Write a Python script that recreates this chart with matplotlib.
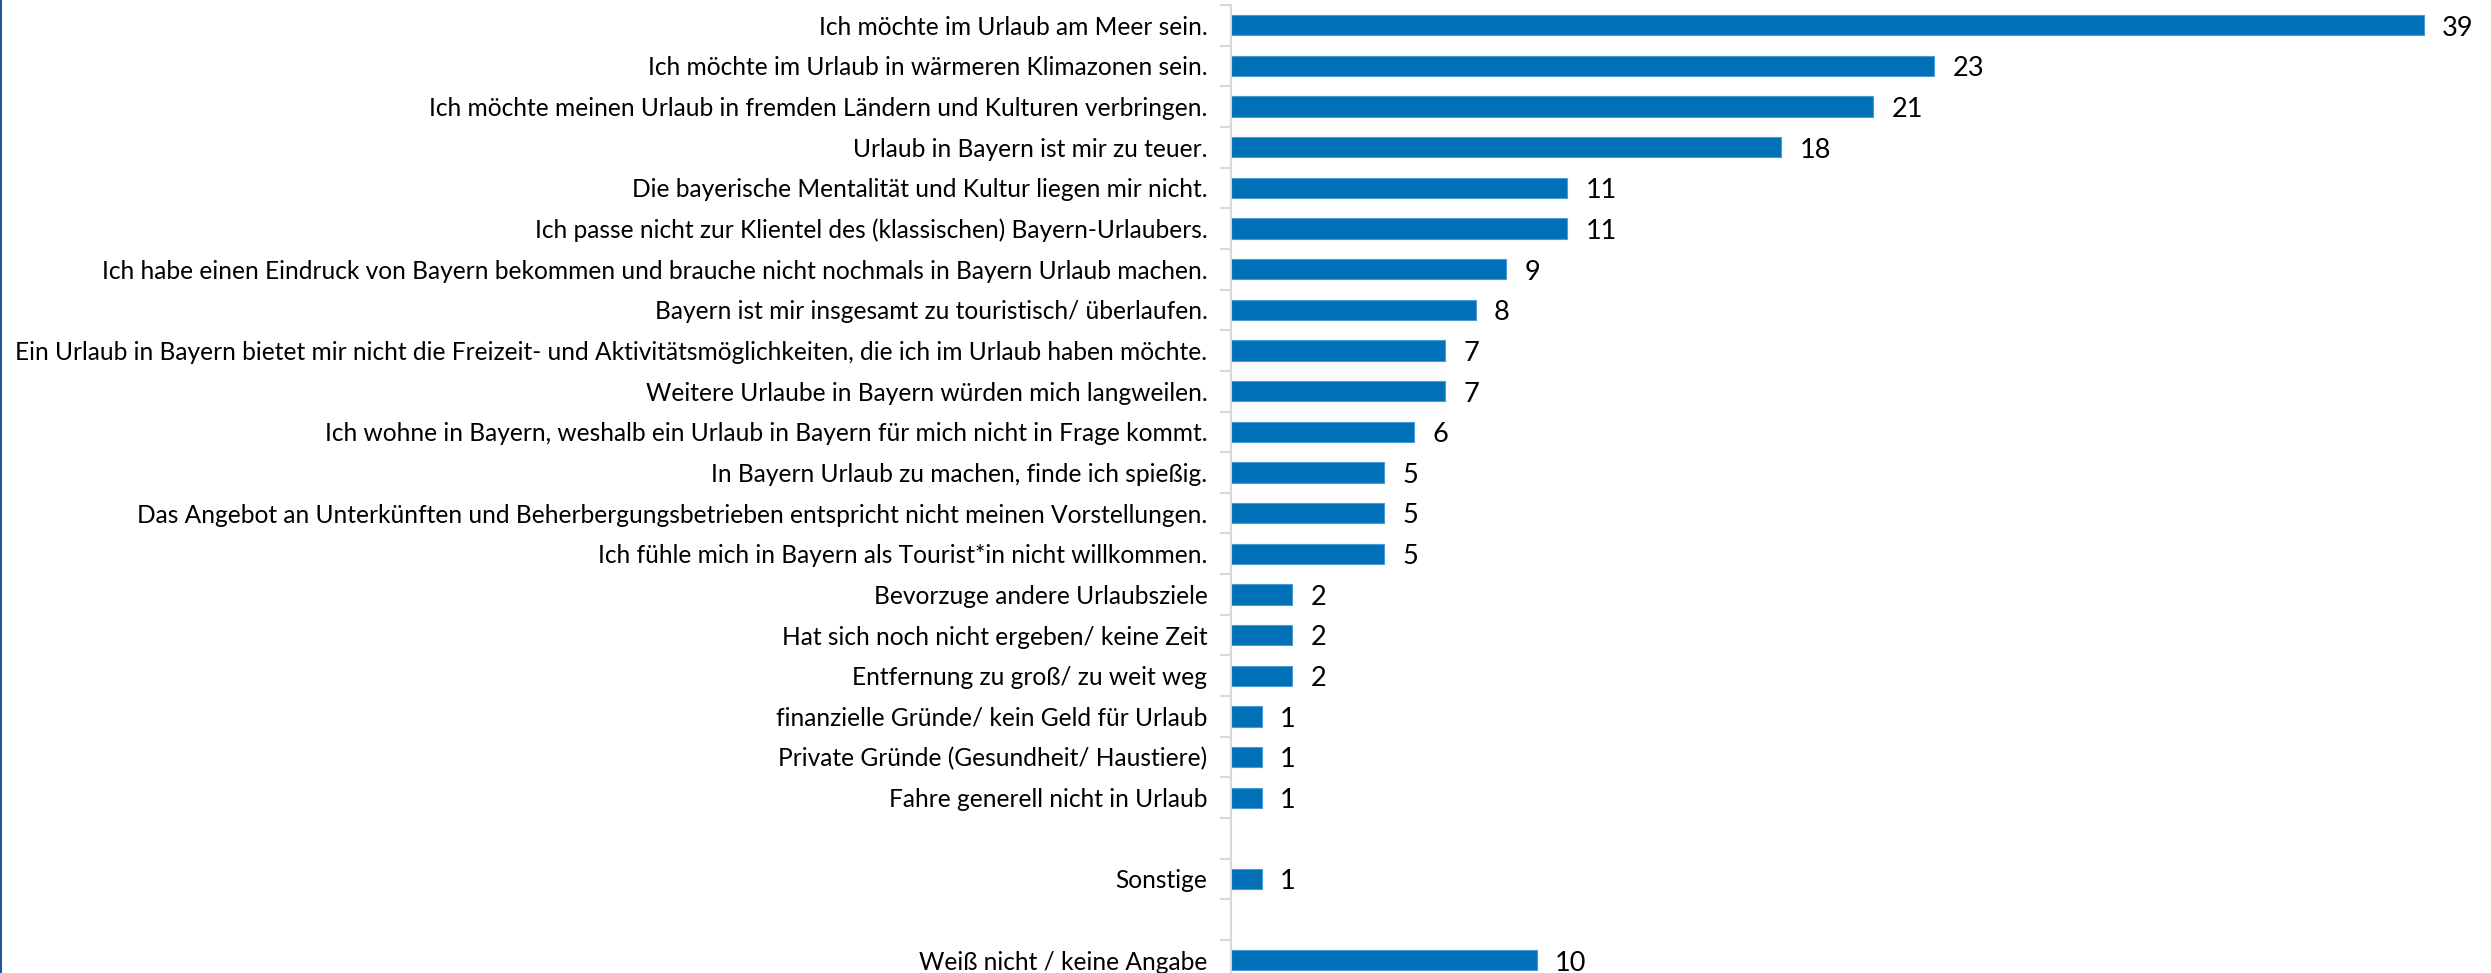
import numpy as np
import matplotlib
matplotlib.use("Agg")
from matplotlib import pyplot as plt
from matplotlib.lines import Line2D

# categories top to bottom; "" marks the empty slots in the axis
labels = [
    "Ich möchte im Urlaub am Meer sein.",
    "Ich möchte im Urlaub in wärmeren Klimazonen sein.",
    "Ich möchte meinen Urlaub in fremden Ländern und Kulturen verbringen.",
    "Urlaub in Bayern ist mir zu teuer.",
    "Die bayerische Mentalität und Kultur liegen mir nicht.",
    "Ich passe nicht zur Klientel des (klassischen) Bayern-Urlaubers.",
    "Ich habe einen Eindruck von Bayern bekommen und brauche nicht nochmals in Bayern Urlaub machen.",
    "Bayern ist mir insgesamt zu touristisch/ überlaufen.",
    "Ein Urlaub in Bayern bietet mir nicht die Freizeit- und Aktivitätsmöglichkeiten, die ich im Urlaub haben möchte.",
    "Weitere Urlaube in Bayern würden mich langweilen.",
    "Ich wohne in Bayern, weshalb ein Urlaub in Bayern für mich nicht in Frage kommt.",
    "In Bayern Urlaub zu machen, finde ich spießig.",
    "Das Angebot an Unterkünften und Beherbergungsbetrieben entspricht nicht meinen Vorstellungen.",
    "Ich fühle mich in Bayern als Tourist*in nicht willkommen.",
    "Bevorzuge andere Urlaubsziele",
    "Hat sich noch nicht ergeben/ keine Zeit",
    "Entfernung zu groß/ zu weit weg",
    "finanzielle Gründe/ kein Geld für Urlaub",
    "Private Gründe (Gesundheit/ Haustiere)",
    "Fahre generell nicht in Urlaub",
    "",
    "Sonstige",
    "",
    "Weiß nicht / keine Angabe",
]
values = [39, 23, 21, 18, 11, 11, 9, 8, 7, 7, 6, 5, 5, 5, 2, 2, 2, 1, 1, 1,
          None, 1, None, 10]

plt.rcParams['font.family'] = ['Lato', 'DejaVu Sans']

fig = plt.figure(figsize=(24.91, 9.73), dpi=100)
# axis spine at x=1231px, slot height ~40.65px, top boundary at ~5px
n = len(labels)
slot = 40.65
top = 5
ax_h = n * slot
ax = fig.add_axes([1231 / 2491, (973 - top - ax_h) / 973, (2491 - 1231) / 2491, ax_h / 973])

y = np.arange(n)
for yi, v in zip(y, values):
    if v is None:
        continue
    ax.barh(yi, v, height=0.5, color='#0070b8', edgecolor='#4a9ad4', linewidth=0.8)
    ax.text(v + 0.6, yi + 0.07, str(v), va='center', ha='left', fontsize=19.5, color='#000000')

ax.set_xlim(0, 41.2)
ax.set_ylim(n - 0.5, -0.5)
ax.set_yticks(y)
ax.set_yticklabels(labels, fontsize=17.65, color='#000000')
ax.set_yticks(np.arange(n + 1) - 0.5, minor=True)
ax.tick_params(axis='y', which='major', length=0, pad=17)
ax.tick_params(axis='y', which='minor', length=8, color='#d9d9d9', width=1.5)
ax.set_xticks([])
for s in ['top', 'right', 'bottom']:
    ax.spines[s].set_visible(False)
ax.spines['left'].set_color('#d9d9d9')
ax.spines['left'].set_linewidth(1.5)

# thin blue frame line at the left edge
fig.add_artist(Line2D([0.0006, 0.0006], [0, 1], color='#2457a0', linewidth=1.5, transform=fig.transFigure))

fig.savefig('out.png', dpi=100)
